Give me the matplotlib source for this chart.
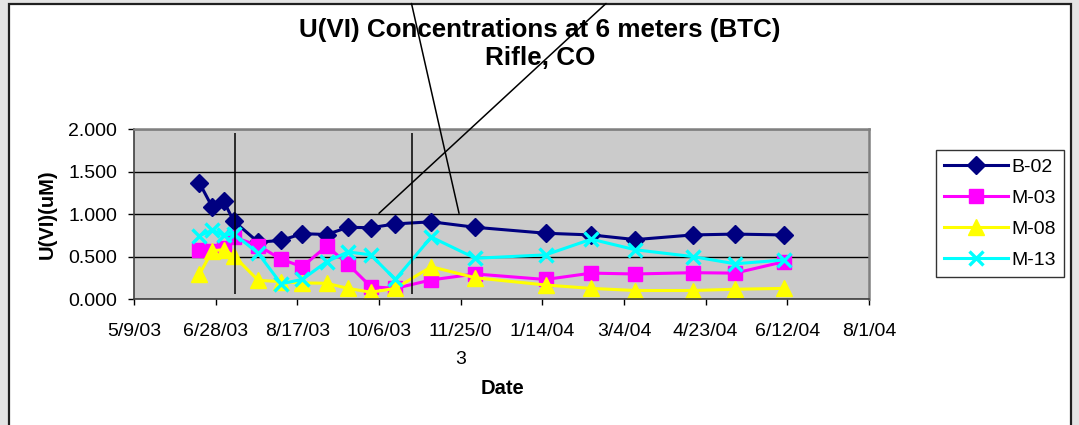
import matplotlib
matplotlib.use("Agg")
import matplotlib.pyplot as plt
import matplotlib.dates as mdates
from matplotlib.patches import Rectangle, ConnectionPatch
import pandas as pd

plt.rcParams['font.family'] = ['Liberation Sans', 'DejaVu Sans']

# sampling dates and U(VI) values (uM)
dates = pd.to_datetime([
    '2003-06-18', '2003-06-26', '2003-07-03', '2003-07-09', '2003-07-24',
    '2003-08-07', '2003-08-20', '2003-09-04', '2003-09-17', '2003-10-01',
    '2003-10-16', '2003-11-07', '2003-12-04', '2004-01-16', '2004-02-13',
    '2004-03-11', '2004-04-15', '2004-05-11', '2004-06-10'])
b02 = [1.37, 1.08, 1.15, 0.92, 0.67, 0.69, 0.77, 0.76, 0.845, 0.84,
       0.885, 0.91, 0.845, 0.775, 0.755, 0.70, 0.755, 0.765, 0.755]
m03 = [0.58, 0.57, 0.60, 0.73, 0.63, 0.47, 0.38, 0.625, 0.41, 0.145,
       0.125, 0.225, 0.295, 0.23, 0.305, 0.295, 0.31, 0.305, 0.44]
m08 = [0.29, 0.57, 0.58, 0.51, 0.22, 0.205, 0.19, 0.185, 0.125, 0.08,
       0.125, 0.38, 0.25, 0.165, 0.125, 0.10, 0.10, 0.115, 0.125]
m13 = [0.745, 0.81, 0.75, 0.77, 0.54, 0.18, 0.23, 0.44, 0.555, 0.52,
       0.23, 0.73, 0.48, 0.52, 0.705, 0.58, 0.50, 0.415, 0.46]

tick_dates = pd.to_datetime(['2003-05-09', '2003-06-28', '2003-08-17', '2003-10-06',
                             '2003-11-25', '2004-01-14', '2004-03-04', '2004-04-23',
                             '2004-06-12', '2004-08-01'])
tick_labels = ['5/9/03', '6/28/03', '8/17/03', '10/6/03', '11/25/0\n3',
               '1/14/04', '3/4/04', '4/23/04', '6/12/04', '8/1/04']

# hand-drawn marker lines on the original
event_dates = pd.to_datetime(['2003-07-10', '2003-10-26'])
pointer_ends = pd.to_datetime(['2003-11-24', '2003-10-06'])

W, H = 1079, 425
fig = plt.figure(figsize=(W / 100, H / 100), dpi=100)
fig.patch.set_facecolor('#e4e4e4')
fig.add_artist(Rectangle((8.5 / W, -0.05), 1062 / W, 1.05 - 3.5 / H,
                         transform=fig.transFigure, facecolor='white',
                         edgecolor='#202020', linewidth=1.6, zorder=-5))

ax = fig.add_axes([134 / W, 1 - 299 / H, 735 / W, 169.7 / H])
ax.set_facecolor('#cbcbcb')

ax.plot(dates, b02, color='#000080', lw=2.2, marker='D', ms=9.5, label='B-02')
ax.plot(dates, m03, color='#ff00ff', lw=2.2, marker='s', ms=10, label='M-03')
ax.plot(dates, m08, color='#ffff00', lw=2.2, marker='^', ms=11.5, label='M-08')
ax.plot(dates, m13, color='#00ffff', lw=2.2, marker='x', ms=10, mew=2.4, label='M-13')

ax.vlines(event_dates, 0.06, 1.955, color='black', lw=1.1, zorder=5)

ax.set_xlim(tick_dates[0], tick_dates[-1])
ax.set_ylim(0, 2)
ax.set_xticks(tick_dates)
ax.set_xticklabels(tick_labels, fontsize=14, linespacing=1.85)
ax.set_yticks([0, 0.5, 1.0, 1.5, 2.0])
ax.yaxis.set_major_formatter(plt.FormatStrFormatter('%.3f'))
ax.tick_params(axis='y', labelsize=14, length=4, width=1, pad=8)
ax.tick_params(axis='x', length=4, width=1, pad=13)
ax.grid(axis='y', color='black', lw=1)
ax.set_axisbelow(True)
for s in ax.spines.values():
    s.set_color('#808080')
    s.set_linewidth(1.8)
ax.spines['bottom'].set_color('#404040')
ax.spines['left'].set_color('#404040')
ax.spines['bottom'].set_linewidth(1.2)
ax.spines['left'].set_linewidth(1.2)

# pointer lines running up off the top of the chart
for d, xtop in zip(pointer_ends, [411.5, 606]):
    con = ConnectionPatch(xyA=(mdates.date2num(d), 1.01), coordsA=ax.transData,
                          xyB=(xtop / W, 1 - 3.5 / H), coordsB=fig.transFigure,
                          color='black', lw=1.1, zorder=6)
    fig.add_artist(con)

fig.text(540 / W, 1 - 30 / H, 'U(VI) Concentrations at 6 meters (BTC)',
         ha='center', va='center', fontsize=18.7, fontweight='bold')
fig.text(540 / W, 1 - 58 / H, 'Rifle, CO', ha='center', va='center',
         fontsize=18.7, fontweight='bold')
fig.text(47 / W, 1 - 214 / H, 'U(VI)(uM)', rotation=90, ha='center',
         va='center', fontsize=14.5, fontweight='bold')
fig.text(502 / W, 1 - 388 / H, 'Date', ha='center', va='center',
         fontsize=14.5, fontweight='bold')

leg = ax.legend(loc='upper left', bbox_to_anchor=(935.5 / W, 1 - 150 / H),
                bbox_transform=fig.transFigure, fontsize=14, frameon=True,
                fancybox=False, handlelength=3.3, labelspacing=0.69,
                borderpad=0.42, handletextpad=0.2, borderaxespad=0)
leg.get_frame().set_edgecolor('black')
leg.get_frame().set_linewidth(1.0)

fig.savefig('out.png', dpi=100, facecolor=fig.get_facecolor())
